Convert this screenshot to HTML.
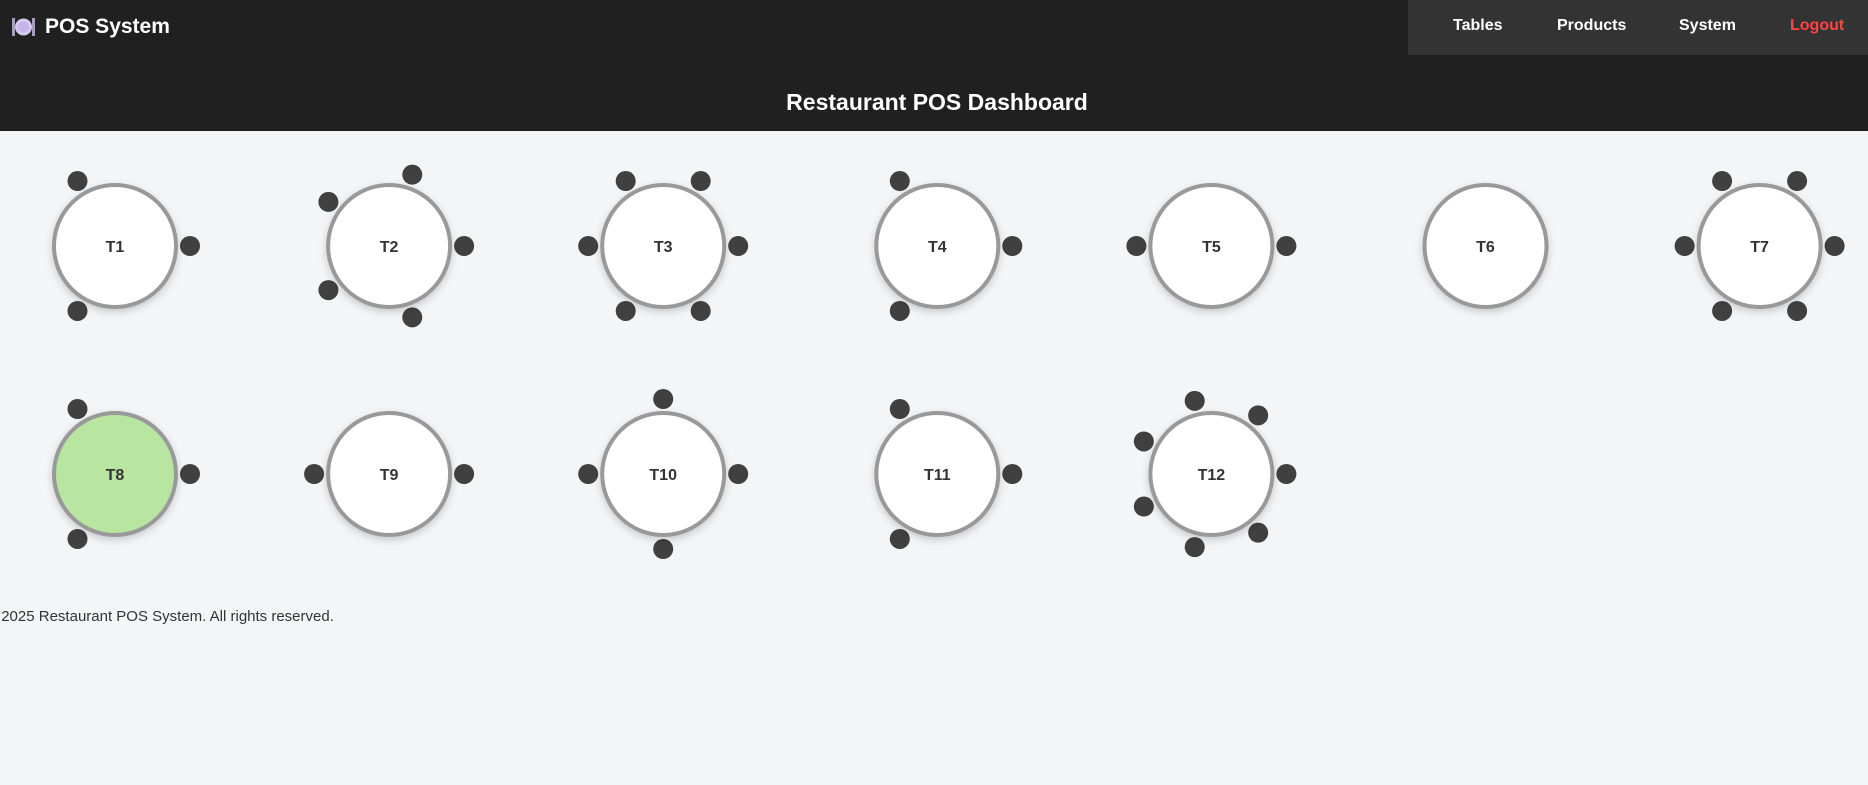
<!DOCTYPE html>
<html><head><meta charset="utf-8">
<style>
html,body{margin:0;padding:0;width:1868px;height:785px;overflow:hidden;background:#f4f5f7;font-family:"Liberation Sans",sans-serif;}
#hdr{position:absolute;left:0;top:0;width:1868px;height:131px;background:#202020;}
#nav{position:absolute;left:1408px;top:0;width:460px;height:55px;background:#333;}
.nl{position:absolute;top:17px;font-size:16px;font-weight:bold;color:#fff;}
#logo{position:absolute;left:45px;top:15px;font-size:21px;font-weight:bold;color:#fff;}
#title{position:absolute;left:0;width:1874px;top:89px;text-align:center;font-size:23px;font-weight:bold;color:#fff;}
#foot{position:absolute;left:-14px;top:608px;font-size:15px;color:#333;}
</style></head><body>
<div id="hdr"></div>
<svg style="position:absolute;left:12px;top:17px" width="23" height="20">
<rect x="0" y="1" width="3" height="18" fill="#a99bbf"/><rect x="20" y="1" width="3" height="18" fill="#a99bbf"/>
<circle cx="11.5" cy="10" r="8.5" fill="#d6c9f0"/><circle cx="11.5" cy="10" r="5.5" fill="#c5b5ea"/></svg>
<div id="logo">POS System</div>
<div id="nav">
<span class="nl" style="left:45px">Tables</span>
<span class="nl" style="left:149px">Products</span>
<span class="nl" style="left:271px">System</span>
<span class="nl" style="left:382px;color:#ff4444">Logout</span>
</div>
<div id="title">Restaurant POS Dashboard</div>
<svg id="floor" style="position:absolute;left:0;top:0" width="1868" height="785">
<defs><filter id="sh" x="-30%" y="-30%" width="160%" height="160%"><feDropShadow dx="0" dy="3" stdDeviation="4" flood-color="#000" flood-opacity="0.18"/></filter></defs>
</svg>
<div id="foot">© 2025 Restaurant POS System. All rights reserved.</div>
<script>
const tableNames=["T1","T2","T3","T4","T5","T6","T7","T8","T9","T10","T11","T12"];
const seatCounts=[3,5,6,3,2,0,6,3,2,4,3,7];
const occupied=[false,false,false,false,false,false,false,true,false,false,false,false];
const svg=document.getElementById('floor');
const NS="http://www.w3.org/2000/svg";
const colX=i=>115+(i%7)*274.1;
const rowY=i=>246+Math.floor(i/7)*228;
tableNames.forEach((name,i)=>{
  const cx=colX(i),cy=rowY(i);
  const g=document.createElementNS(NS,'g');
  
  
  const n=seatCounts[i];
  for(let k=0;k<n;k++){
    const a=-2*Math.PI*k/n;
    const s=document.createElementNS(NS,'circle');
    s.setAttribute('cx',cx+75*Math.cos(a));s.setAttribute('cy',cy+75*Math.sin(a));
    s.setAttribute('r',10);s.setAttribute('fill','#404040');
    
    
    g.appendChild(s);
  }
  const c=document.createElementNS(NS,'circle');
  c.setAttribute('cx',cx);c.setAttribute('cy',cy);c.setAttribute('r',61);
  c.setAttribute('fill',occupied[i]?'#b8e6a0':'#fff');c.setAttribute('stroke','#999');c.setAttribute('stroke-width',4);
  c.setAttribute('filter','url(#sh)');
  
  
  g.appendChild(c);
  const t=document.createElementNS(NS,'text');
  t.setAttribute('x',cx);t.setAttribute('y',cy+6);t.setAttribute('text-anchor','middle');
  t.setAttribute('font-size','16');t.setAttribute('font-weight','bold');t.setAttribute('fill','#333');
  t.setAttribute('font-family','Liberation Sans, sans-serif');
  t.textContent=name;
  
  
  g.appendChild(t);
  svg.appendChild(g);
});
</script>
</body></html>
